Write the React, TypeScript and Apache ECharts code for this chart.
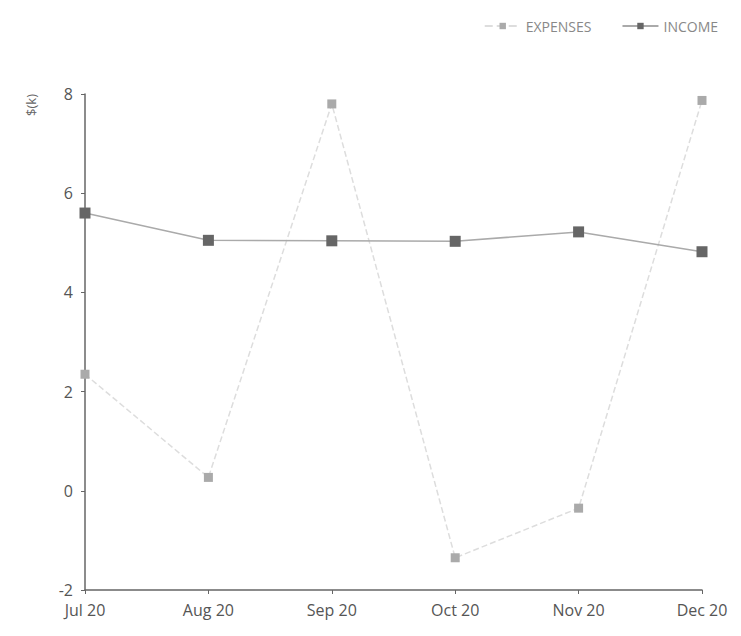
import React, { useEffect, useRef } from "react";
import * as echarts from "echarts";

const categories = ["Jul 20", "Aug 20", "Sep 20", "Oct 20", "Nov 20", "Dec 20"];
const expenses = [2.35, 0.27, 7.8, -1.35, -0.35, 7.87];
const income = [5.6, 5.05, 5.04, 5.03, 5.22, 4.82];

export default function App() {
  const ref = useRef<HTMLDivElement>(null);
  useEffect(() => {
    const chart = echarts.init(ref.current!, null, { renderer: "svg" });
    chart.setOption({
      animation: false,
      backgroundColor: "#fff",
      textStyle: { fontFamily: "Open Sans" },
      legend: {
        top: 14,
        right: 18,
        itemWidth: 36,
        itemHeight: 8,
        itemGap: 30,
        textStyle: { color: "#888", fontSize: 14 },
        data: ["EXPENSES", "INCOME"],
      },
      grid: { left: 85, right: 39, top: 94, bottom: 46 },
      xAxis: {
        type: "category",
        data: categories,
        boundaryGap: false,
        axisLine: { onZero: false, lineStyle: { color: "#666", width: 1.5 } },
        axisTick: { alignWithLabel: true, length: 4, lineStyle: { color: "#666" } },
        axisLabel: { color: "#555", fontSize: 16, margin: 12 },
      },
      yAxis: {
        type: "value",
        min: -2,
        max: 8,
        interval: 2,
        name: "$(k)",
        nameLocation: "end",
        nameRotate: 90,
        nameGap: 0,
        nameTextStyle: { color: "#666", fontSize: 13, padding: [0, 0, 48, 0], align: "right", verticalAlign: "bottom" },
        axisLine: { show: true, lineStyle: { color: "#666", width: 1.5 } },
        axisTick: { show: true, length: 4, lineStyle: { color: "#666" } },
        axisLabel: { color: "#555", fontSize: 16, margin: 12 },
        splitLine: { show: false },
      },
      series: [
        {
          name: "EXPENSES",
          type: "line",
          data: expenses,
          symbol: "rect",
          symbolSize: 9,
          itemStyle: { color: "#aaa" },
          lineStyle: { color: "#ddd", width: 1.5, type: "dashed" },
        },
        {
          name: "INCOME",
          type: "line",
          data: income,
          symbol: "rect",
          symbolSize: 11,
          itemStyle: { color: "#666" },
          lineStyle: { color: "#aaa", width: 1.5 },
        },
      ],
    });
    return () => chart.dispose();
  }, []);
  return <div ref={ref} style={{ width: 741, height: 636, position: "absolute", left: 0, top: 0 }} />;
}
